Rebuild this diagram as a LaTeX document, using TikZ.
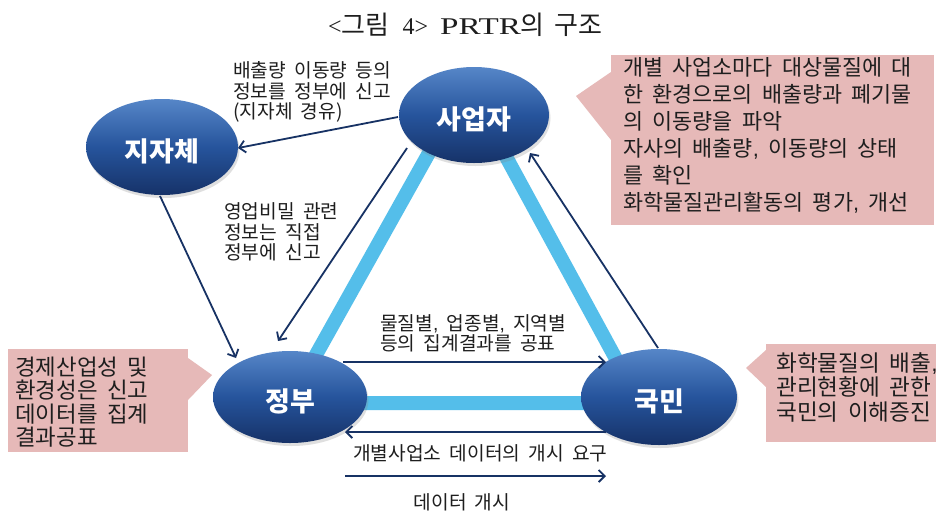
\documentclass[tikz,border=0pt]{standalone}
\usepackage{fontspec}
\newfontfamily\kr[WordSpace=1.9]{Noto Sans CJK KR}
\newfontfamily\ser{Liberation Serif}
\newfontfamily\lat{Liberation Sans}
\newcommand\cma{{\lat,}}
\usetikzlibrary{arrows.meta,shadows,calc,shapes.geometric}
\definecolor{navy}{RGB}{23,50,100}
\definecolor{skyb}{RGB}{84,190,234}
\definecolor{pinkb}{RGB}{230,185,184}
\definecolor{ballTop}{RGB}{86,134,200}
\definecolor{ballMid}{RGB}{38,84,156}
\definecolor{ballBot}{RGB}{22,50,104}
\definecolor{txt}{RGB}{30,30,30}
\begin{document}
\begin{tikzpicture}[x=1pt,y=-1pt,
  ell/.style={ellipse, inner sep=0pt, outer sep=0pt, draw=none,
    top color=ballTop, bottom color=ballBot, middle color=ballMid,
    drop shadow={shadow xshift=1.5pt, shadow yshift=-3pt, opacity=0.25},
    text=white, text height=30pt, text depth=1pt,
    font=\kr\bfseries\fontsize{27}{30}\selectfont},
  arr/.style={draw=navy, line width=1.8pt, -{Straight Barb[length=6pt,width=12pt]}},
  band/.style={draw=skyb, line width=14pt, line join=round},
  lbl/.style={inner sep=0pt, anchor=west, align=left, text=txt,
    font=\kr\fontsize{19.2}{20.5}\selectfont},
  cbox/.style={fill=pinkb, draw=none, inner sep=0pt, outer sep=0pt, anchor=north west},
  ctext/.style={inner sep=0pt, anchor=west, align=left, text=txt},
]
\useasboundingbox (0,0) rectangle (939,515);
\fill[white] (0,0) rectangle (939,515);

% title
\node[inner sep=0pt, anchor=west, text=txt] (title) at (328,25)
  {{\ser\fontsize{24}{26}\selectfont <}{\kr\fontsize{26}{28}\selectfont 그림}\hspace{13pt}{\ser\fontsize{24}{26}\selectfont 4>}\hspace{12pt}{\ser\fontsize{24}{26}\selectfont\scalebox{1.38}[1]{PRTR}}{\kr\fontsize{26}{28}\selectfont 의}\hspace{10pt}{\kr\fontsize{26}{28}\selectfont 구조}};

% light blue triangle
\coordinate (ta) at (467,85);
\coordinate (tl) at (289,403);
\coordinate (tr) at (640,403);
\draw[band] (ta) -- (tl) -- (tr) -- cycle;

% callouts
\node[cbox, minimum width=323pt, minimum height=170pt] (c1) at (611,55) {};
\coordinate (c1tip) at (576,96);
\fill[pinkb] ($(c1.north west)+(0,17)$) -- (c1tip) -- ($(c1.north west)+(0,85)$) -- cycle;
\node[ctext, font=\kr\fontsize{21.8}{27}\selectfont] (c1t) at (623,135.5)
  {개별 사업소마다 대상물질에 대\\한 환경으로의 배출량과 폐기물\\의 이동량을 파악\\자사의 배출량\cma{} 이동량의 상태\\를 확인\\화학물질관리활동의 평가\cma{} 개선};

\node[cbox, minimum width=180pt, minimum height=103pt] (c2) at (8,349) {};
\coordinate (c2tip) at (212,375);
\fill[pinkb] ($(c2.north east)+(0,9)$) -- (c2tip) -- ($(c2.north east)+(0,51)$) -- cycle;
\node[ctext, font=\kr\fontsize{22.4}{23.5}\selectfont] (c2t) at (15,402)
  {경제산업성 및\\환경성은 신고\\데이터를 집계\\결과공표};

\node[cbox, minimum width=170pt, minimum height=98pt] (c3) at (766,344) {};
\coordinate (c3tip) at (746,368);
\fill[pinkb] ($(c3.north west)+(0,6)$) -- (c3tip) -- ($(c3.north west)+(0,43)$) -- cycle;
\node[ctext, font=\kr\fontsize{22.6}{24.5}\selectfont] (c3t) at (776,387)
  {화학물질의 배출\cma\\관리현황에 관한\\국민의 이해증진};

% ellipses
\node[ell, minimum width=150pt, minimum height=96pt] (sa) at (474,115) {사업자};
\node[ell, minimum width=152pt, minimum height=96pt] (jj) at (162,147) {지자체};
\node[ell, minimum width=154pt, minimum height=92pt] (jb) at (290,397) {정부};
\node[ell, minimum width=156pt, minimum height=96pt] (km) at (659,397) {국민};

% arrows
\draw[arr] ($(sa)+(-76,2)$) -- ($(jj)+(76,1)$);
\draw[arr] ($(jj)+(-2,49)$) -- ($(jb)+(-54,-39)$);
\draw[arr] ($(sa)+(-67,33)$) -- ($(jb)+(-12,-56)$);
\draw[arr] ($(km)+(-1,-49)$) -- ($(sa)+(56,38)$);
\draw[arr] ($(jb)+(53,-35)$) -- ($(km)+(-53,-35)$);
\draw[arr] ($(km)+(-53,35)$) -- ($(jb)+(55,35)$);
\coordinate (fa) at (345,476);
\coordinate (fb) at (606,476);
\draw[arr] (fa) -- (fb);

% labels
\node[lbl] (l1) at (233,92) {배출량 이동량 등의\\정보를 정부에 신고\\(지자체 경유)};
\node[lbl] (l2) at (224,232) {영업비밀 관련\\정보는 직접\\정부에 신고};
\node[lbl] (l3) at (380,333.5) {물질별\cma{} 업종별\cma{} 지역별\\등의 집계결과를 공표};
\node[lbl] (l4) at (353,453) {개별사업소 데이터의 개시 요구};
\node[lbl, anchor=center] (l5) at (462,502) {데이터 개시};
\end{tikzpicture}
\end{document}
